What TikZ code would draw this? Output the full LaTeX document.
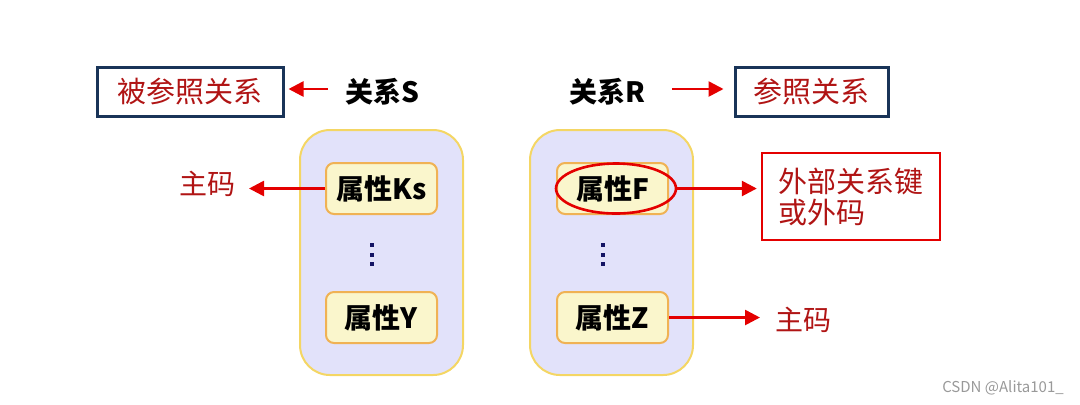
\documentclass[tikz,border=0pt]{standalone}
\usepackage{fontspec}
\setmainfont{Noto Sans CJK SC}
\definecolor{relnavy}{RGB}{25,52,88}
\definecolor{keyred}{RGB}{176,20,20}
\definecolor{arrred}{RGB}{228,0,0}
\definecolor{boxlav}{RGB}{226,226,250}
\definecolor{boxgold}{RGB}{244,214,100}
\definecolor{attrfill}{RGB}{250,246,204}
\definecolor{attrline}{RGB}{240,178,84}
\definecolor{dotnavy}{RGB}{20,20,100}
\usetikzlibrary{arrows.meta,positioning,shapes.geometric,calc}
\tikzset{
  relbox/.style={draw=relnavy, line width=1.5pt, text=keyred, font=\fontsize{14.5}{16}\selectfont,
                 minimum height=24.5pt, inner sep=0pt},
  relname/.style={font=\fontsize{14}{16}\selectfont\bfseries, text=black},
  relpanel/.style={draw=boxgold, fill=boxlav, line width=1pt, rounded corners=15pt,
                minimum width=81.5pt, minimum height=122.5pt},
  attr/.style={draw=attrline, fill=attrfill, line width=1pt, rounded corners=4pt,
               font=\fontsize{14}{16}\selectfont\bfseries, minimum width=55.5pt, minimum height=25.5pt, inner sep=0pt},
  keytext/.style={text=keyred, font=\fontsize{14}{16}\selectfont},
  redarrow/.style={draw=arrred, line width=1.3pt, -{Triangle[length=7.5pt, width=7.5pt]}},
}

\begin{document}
\begin{tikzpicture}[x=0.5pt, y=-0.5pt]
\useasboundingbox (0,0) rectangle (1080,404);

% Top row: relation names and their roles
\node[relbox, minimum width=93pt] (refd) at (190,91.5) {被参照关系};
\node[relname] (relS) at (382,92) {关系S};
\node[relname] (relR) at (607,92) {关系R};
\node[relbox, minimum width=76.5pt] (refg) at (811.5,91.5) {参照关系};

\draw[redarrow] (relS.west) ++(-10,-3) coordinate (sS) -- ($(sS -| refd.east)+(4,0)$);
\draw[redarrow] (relR.east) ++(20,-3) coordinate (sR) -- ($(sR -| refg.west)+(-10,0)$);

% Relation S
\node[relpanel] (tabS) at (381.5,252.5) {};
\node[attr] (attrKs) at (381.5,188.5) {属性Ks};
\node[attr] (attrY) at (381.5,317.5) {属性Y};
\foreach \y in {245,254.5,264} \fill[dotnavy] (369.5,\y-2) rectangle (373.5,\y+2);

% Relation R
\node[relpanel] (tabR) at (611.5,252.5) {};
\node[attr] (attrF) at (612.5,188.5) {属性F};
\node[attr] (attrZ) at (612.5,317.5) {属性Z};
\foreach \y in {245,254.5,264} \fill[dotnavy] (600.5,\y-2) rectangle (604.5,\y+2);
\node[ellipse, draw=arrred, line width=1.3pt, minimum width=60pt, minimum height=25pt] (ellF) at (616,188.5) {};

% Keys
\node[keytext] (pkS) at (207,184) {主码};
\draw[redarrow] (attrKs.west) -- ++(-76,0) coordinate (pkSend);

\node[draw=arrred, line width=1.2pt, text=keyred, font=\fontsize{14.5}{15.5}\selectfont, align=left,
      minimum width=89pt, minimum height=43.5pt] (fkbox) at (851,196.5) {外部关系键\\或外码};
\draw[redarrow] (ellF.east) -- ($(ellF.east -| fkbox.west)+(-4,0)$);

\node[keytext] (pkR) at (803,320) {主码};
\draw[redarrow] (attrZ.east) -- (760,317.5) coordinate (pkRend);

% Watermark
\node[text=gray!80, font=\fontsize{7.5}{9}\selectfont] (mark) at (1003,388) {CSDN @Alita101\_};
\end{tikzpicture}
\end{document}
